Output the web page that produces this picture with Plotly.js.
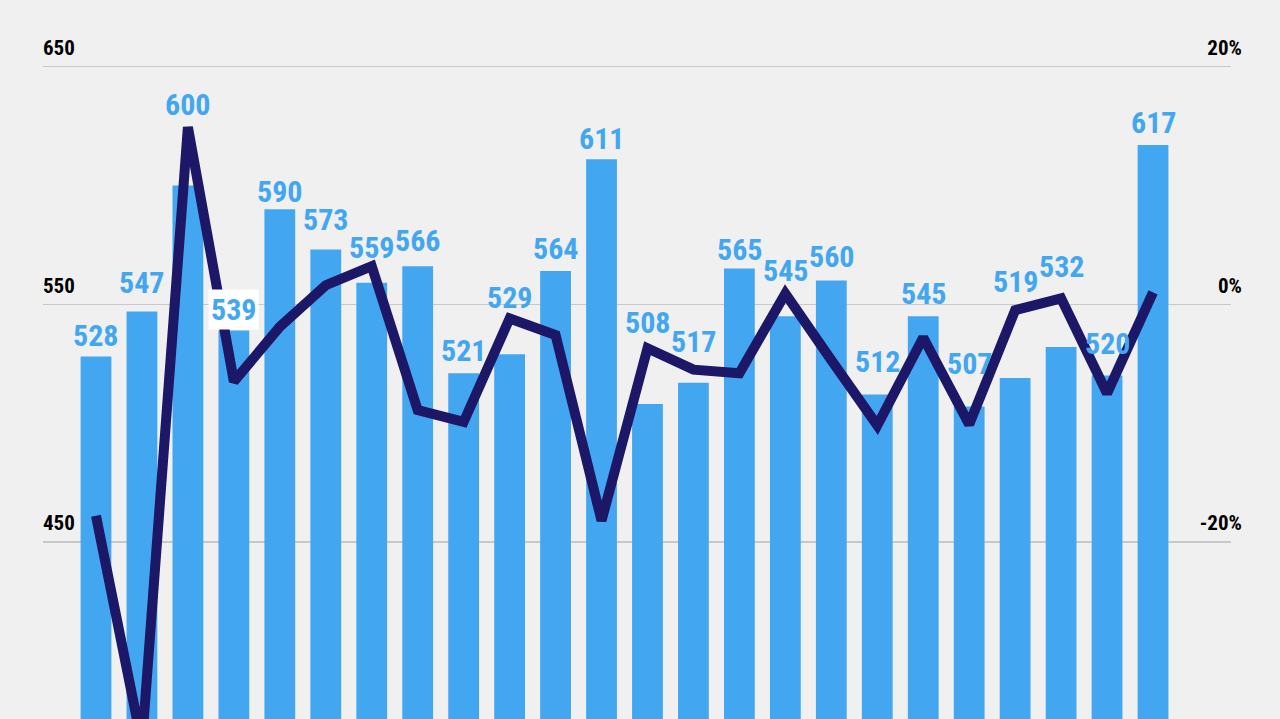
<!DOCTYPE html>
<html>
<head>
<meta charset="utf-8">
<script src="https://cdn.plot.ly/plotly-3.0.1.min.js"></script>
<style>
  html, body { margin: 0; padding: 0; background: #f0f0f0; }
  #chart { width: 1280px; height: 719px; }
</style>
</head>
<body>
<div id="chart"></div>
<script>
// periodos (sin etiquetas visibles en el eje x)
const periods = [1, 2, 3, 4, 5, 6, 7, 8, 9, 10, 11, 12, 13, 14, 15, 16, 17, 18, 19, 20, 21, 22, 23, 24];

// valores de las barras (eje izquierdo)
const barValues = [528, 547, 600, 539, 590, 573, 559, 566, 521, 529, 564, 611,
                   508, 517, 565, 545, 560, 512, 545, 507, 519, 532, 520, 617];

// variación en % (eje derecho)
const pctChange = [-17.8, -37, 14.9, -6.5, -1.9, 1.6, 3.2, -8.9, -9.9, -1.2, -2.6, -18.2,
                   -3.7, -5.5, -5.8, 0.9, -4.7, -10.2, -2.8, -10.1, -0.5, 0.5, -7.5, 1.0];

// marcas de los ejes
const leftTicks = [450, 550, 650];
const rightTicks = [-20, 0, 20];
const rightTickText = ["-20%", "0%", "20%"];

// desplazamiento vertical (px) de cada etiqueta sobre su barra
const labelLift = [21, 29, 81, 21, 18, 30, 35, 26, 23, 57, 22, 21,
                   82, 41, 19, 46, 24, 33, 23, 43, 96, 81, 32, 22];

const BLUE = "#42a7f0";
const NAVY = "#1c1766";
const FONT = "'Roboto Condensed', 'DejaVu Sans Condensed', sans-serif";

const bars = {
  type: "bar",
  x: periods,
  y: barValues,
  marker: { color: BLUE },
  hoverinfo: "none",
};

const line = {
  type: "scatter",
  mode: "lines",
  x: periods,
  y: pctChange,
  yaxis: "y2",
  line: { color: NAVY, width: 10 },
  cliponaxis: true,
  hoverinfo: "none",
};

// etiquetas de valor sobre cada barra
const annotations = barValues.map((v, i) => ({
  x: periods[i],
  y: v,
  xref: "x",
  yref: "y",
  text: String(v),
  showarrow: false,
  yanchor: "middle",
  yshift: labelLift[i],
  font: { family: FONT, size: 30, color: BLUE, weight: "bold" },
  bgcolor: i === 3 ? "#ffffff" : "rgba(0,0,0,0)",
  borderpad: 2,
}));

const layout = {
  width: 1280,
  height: 719,
  margin: { l: 43, r: 49, t: 20, b: 0 },
  paper_bgcolor: "#f0f0f0",
  plot_bgcolor: "#f0f0f0",
  showlegend: false,
  bargap: 0.33,
  xaxis: {
    range: [-0.153, 25.697],
    showgrid: false,
    zeroline: false,
    showticklabels: false,
    ticks: "",
  },
  yaxis: {
    range: [375.55, 669.56],
    tickvals: leftTicks,
    ticktext: leftTicks.map(String),
    showgrid: true,
    gridcolor: "#c8c8c8",
    gridwidth: 1.5,
    zeroline: false,
    ticks: "",
    ticklabelposition: "inside",
    ticklabelshift: -19,
    ticklabelstandoff: -3,
    ticklabeloverflow: "allow",
    tickfont: { family: FONT, size: 21, color: "#000000", weight: "bold" },
  },
  yaxis2: {
    overlaying: "y",
    side: "right",
    range: [-34.89, 23.91],
    tickvals: rightTicks,
    ticktext: rightTickText,
    showgrid: false,
    zeroline: false,
    ticks: "",
    ticklabelposition: "inside",
    ticklabelshift: -19,
    ticklabelstandoff: -14,
    ticklabeloverflow: "allow",
    tickfont: { family: FONT, size: 21, color: "#000000", weight: "bold" },
  },
  annotations: annotations,
};

Plotly.newPlot("chart", [bars, line], layout, { displayModeBar: false, staticPlot: true });
</script>
</body>
</html>
